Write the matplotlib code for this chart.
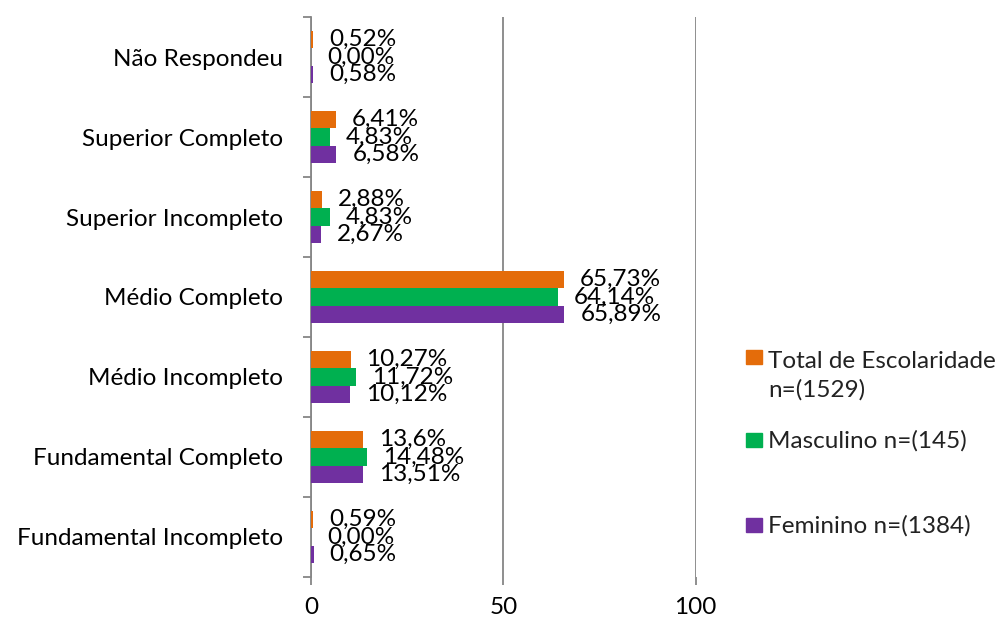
import numpy as np
import matplotlib
matplotlib.use("Agg")
import matplotlib.pyplot as plt
from matplotlib.patches import Rectangle

plt.rcParams['font.family'] = ['Lato', 'DejaVu Sans']

# categorias de baixo para cima
categorias = ["Fundamental Incompleto", "Fundamental Completo", "Médio Incompleto",
              "Médio Completo", "Superior Incompleto", "Superior Completo", "Não Respondeu"]

total_txt = ["0,59", "13,6", "10,27", "65,73", "2,88", "6,41", "0,52"]
masc_txt = ["0,00", "14,48", "11,72", "64,14", "4,83", "4,83", "0,00"]
fem_txt = ["0,65", "13,51", "10,12", "65,89", "2,67", "6,58", "0,58"]

series = [
    ("Total de Escolaridade\nn=(1529)", total_txt, "#E46C0A"),
    ("Masculino n=(145)", masc_txt, "#00B050"),
    ("Feminino n=(1384)", fem_txt, "#7030A0"),
]

fs = 17.5

fig = plt.figure(figsize=(10, 6.19), dpi=100)
ax = fig.add_axes([0.311, 0.0679, 0.3847, 0.9046])

y = np.arange(len(categorias))
h = 0.22
offsets = [h, 0, -h]

for (nome, txt, cor), off in zip(series, offsets):
    vals = [float(s.replace(",", ".")) for s in txt]
    bars = ax.barh(y + off, vals, height=h, color=cor, zorder=3)
    for b, s in zip(bars, txt):
        ax.annotate(s + "%", (b.get_width(), b.get_y() + b.get_height() / 2),
                    xytext=(16, 0), textcoords="offset pixels",
                    ha="left", va="center", fontsize=fs, color="black", zorder=4)

ax.set_xlim(0, 100)
ax.set_ylim(-0.5, len(categorias) - 0.5)
ax.set_xticks([0, 50, 100])
ax.set_yticks(y)
ax.set_yticklabels(categorias)
ax.set_yticks(np.arange(len(categorias) + 1) - 0.5, minor=True)

gray = "#868686"
ax.tick_params(axis="y", which="major", length=0, pad=20, labelsize=fs)
ax.tick_params(axis="y", which="minor", length=5.8, width=1.3, color=gray)
ax.tick_params(axis="x", length=5.8, width=1.3, color=gray, pad=8.5, labelsize=fs)

ax.grid(axis="x", color=gray, linewidth=1.3, zorder=0)
for sp in ["top", "right", "bottom"]:
    ax.spines[sp].set_visible(False)
ax.spines["left"].set_color(gray)
ax.spines["left"].set_linewidth(1.3)

# legenda (quadrado + texto)
leg_base = [364, 447, 532]
line_px = 32
for (nome, txt, cor), yb in zip(series, leg_base):
    n_lin = nome.count("\n")
    fig.patches.append(Rectangle((0.746, 1 - yb / 619), 0.0155, 14 / 619, color=cor,
                                 transform=fig.transFigure, figure=fig))
    fig.text(0.768, 1 - (yb + 1 + n_lin * line_px) / 619, nome, ha="left",
             va="baseline", fontsize=fs, color="#222222", linespacing=1.45)

fig.savefig("out.png", dpi=100)
